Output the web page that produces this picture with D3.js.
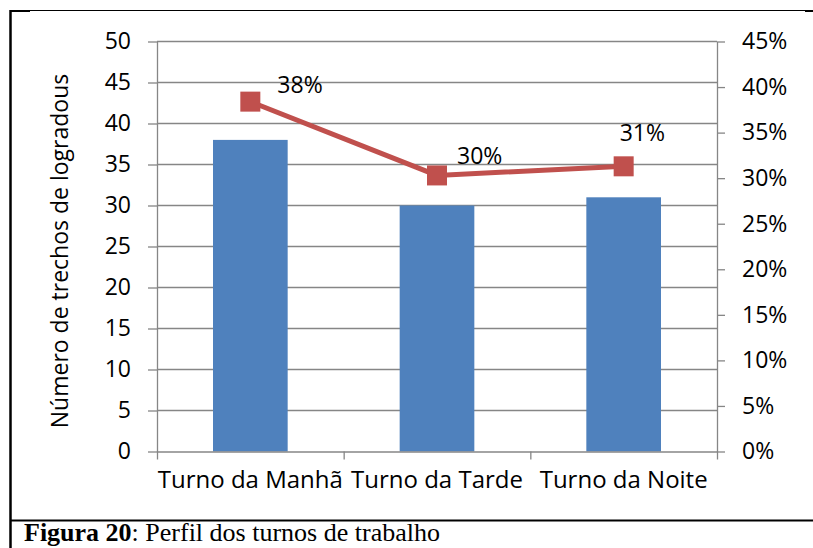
<!DOCTYPE html>
<html>
<head>
<meta charset="utf-8">
<script src="https://cdn.jsdelivr.net/npm/d3@7"></script>
<style>
  body { margin: 0; background: #fff; }
  svg { display: block; }
</style>
</head>
<body>
<div id="chart"></div>
<script>
// values
const categories = ["Turno da Manhã", "Turno da Tarde", "Turno da Noite"];
const counts = [38, 30, 31];
const shares = [0.384, 0.303, 0.313];
const countTicks = [0, 5, 10, 15, 20, 25, 30, 35, 40, 45, 50];
const shareTicks = [0, 0.05, 0.10, 0.15, 0.20, 0.25, 0.30, 0.35, 0.40, 0.45];

const width = 813;
const height = 548;
const plot = { left: 157, right: 717, top: 41.5, bottom: 451.5 };
const grey = "#868686";
const font = "'Open Sans', sans-serif";

const svg = d3
  .select("#chart")
  .append("svg")
  .attr("width", width)
  .attr("height", height);

// frame round the figure
svg.append("line")
  .attr("x1", 10).attr("x2", width).attr("y1", 10.5).attr("y2", 10.5)
  .style("stroke", "#000").style("stroke-width", 1.2);
svg.append("line")
  .attr("x1", 10).attr("x2", 30).attr("y1", 11).attr("y2", 11)
  .style("stroke", "#000").style("stroke-width", 2);
svg.append("line")
  .attr("x1", 805).attr("x2", width).attr("y1", 11).attr("y2", 11)
  .style("stroke", "#000").style("stroke-width", 2);
svg.append("line")
  .attr("x1", 10.5).attr("x2", 10.5).attr("y1", 10).attr("y2", height)
  .style("stroke", "#000").style("stroke-width", 2.5);
svg.append("line")
  .attr("x1", 10).attr("x2", width).attr("y1", 520.5).attr("y2", 520.5)
  .style("stroke", "#000").style("stroke-width", 2.2);

let xScale = d3.scaleBand()
  .domain(categories)
  .range([plot.left, plot.right])
  .paddingInner(0.6)
  .paddingOuter(0.3);

// category boundaries for the tick marks
let xEdges = d3.scaleLinear()
  .domain([0, categories.length])
  .range([plot.left, plot.right]);

let yScale = d3.scaleLinear().domain([0, 50]).range([plot.bottom, plot.top]);
let yScale2 = d3.scaleLinear().domain([0, 0.45]).range([plot.bottom, plot.top]);

//gridlines
svg.append("g")
  .selectAll("line")
  .data(countTicks.filter(d => d > 0))
  .enter()
  .append("line")
  .attr("x1", plot.left)
  .attr("x2", plot.right)
  .attr("y1", d => yScale(d))
  .attr("y2", d => yScale(d))
  .style("stroke", grey)
  .style("stroke-width", 1.3);

// bars
svg.selectAll(".bar")
  .data(counts)
  .enter()
  .append("rect")
  .attr("class", "bar")
  .attr("x", (d, i) => xScale(categories[i]))
  .attr("width", xScale.bandwidth())
  .attr("y", d => yScale(d))
  .attr("height", d => yScale(0) - yScale(d))
  .style("fill", "#4F81BD");

function styleAxis(g, size) {
  g.select(".domain").style("stroke", grey).style("stroke-width", 1.3);
  g.selectAll(".tick line").style("stroke", grey).style("stroke-width", 1.3);
  g.selectAll("text")
    .style("font-family", font)
    .style("font-size", (size || 23) + "px")
    .style("fill", "#000");
}

let yAxis = d3.axisLeft(yScale)
  .tickValues(countTicks)
  .tickSize(9)
  .tickPadding(17)
  .tickSizeOuter(0);

svg.append("g")
  .attr("id", "y-axis")
  .attr("transform", "translate(" + plot.left + ",0)")
  .call(yAxis)
  .call(styleAxis);

let yAxis2 = d3.axisRight(yScale2)
  .tickValues(shareTicks)
  .tickFormat(d3.format(".0%"))
  .tickSize(8)
  .tickPadding(17)
  .tickSizeOuter(0);

svg.append("g")
  .attr("id", "y-axis-right")
  .attr("transform", "translate(" + plot.right + ",0)")
  .call(yAxis2)
  .call(styleAxis);

let xAxis = d3.axisBottom(xEdges)
  .tickValues(d3.range(categories.length + 1))
  .tickFormat("")
  .tickSize(8)
  .tickSizeOuter(0);

svg.append("g")
  .attr("id", "x-axis")
  .attr("transform", "translate(0," + plot.bottom + ")")
  .call(xAxis)
  .call(styleAxis);

let xLabels = d3.axisBottom(xScale).tickSize(0).tickPadding(19);
svg.append("g")
  .attr("transform", "translate(0," + plot.bottom + ")")
  .call(xLabels)
  .call(g => g.select(".domain").remove())
  .call(g => styleAxis(g, 24));

// axis title
svg.append("text")
  .attr("transform", "translate(68,251) rotate(-90)")
  .attr("text-anchor", "middle")
  .style("font-family", font)
  .style("font-size", "23px")
  .text("Número de trechos de logradous");

// share line
let line = d3.line()
  .x((d, i) => xScale(categories[i]) + xScale.bandwidth() / 2)
  .y(d => yScale2(d));

svg.append("path")
  .datum(shares)
  .attr("d", line)
  .style("fill", "none")
  .style("stroke", "#C0504D")
  .style("stroke-width", 5);

svg.selectAll(".marker")
  .data(shares)
  .enter()
  .append("rect")
  .attr("class", "marker")
  .attr("x", (d, i) => xScale(categories[i]) + xScale.bandwidth() / 2 - 10)
  .attr("y", d => yScale2(d) - 10)
  .attr("width", 20)
  .attr("height", 20)
  .style("fill", "#C0504D");

// label nudges (dx, dy from the marker centre)
const labelNudge = [[27, -9], [20, -11], [-4, -25]];

svg.selectAll(".share-label")
  .data(shares)
  .enter()
  .append("text")
  .attr("class", "share-label")
  .attr("x", (d, i) => xScale(categories[i]) + xScale.bandwidth() / 2 + labelNudge[i][0])
  .attr("y", (d, i) => yScale2(d) + labelNudge[i][1])
  .style("font-family", font)
  .style("font-size", "23px")
  .text(d => d3.format(".0%")(d));

// caption
let caption = svg.append("text")
  .attr("x", 24)
  .attr("y", 541)
  .style("font-family", "'Liberation Serif', 'Times New Roman', serif")
  .style("font-size", "26px");
caption.append("tspan").style("font-weight", "bold").text("Figura 20");
caption.append("tspan").text(": Perfil dos turnos de trabalho");
</script>
</body>
</html>
